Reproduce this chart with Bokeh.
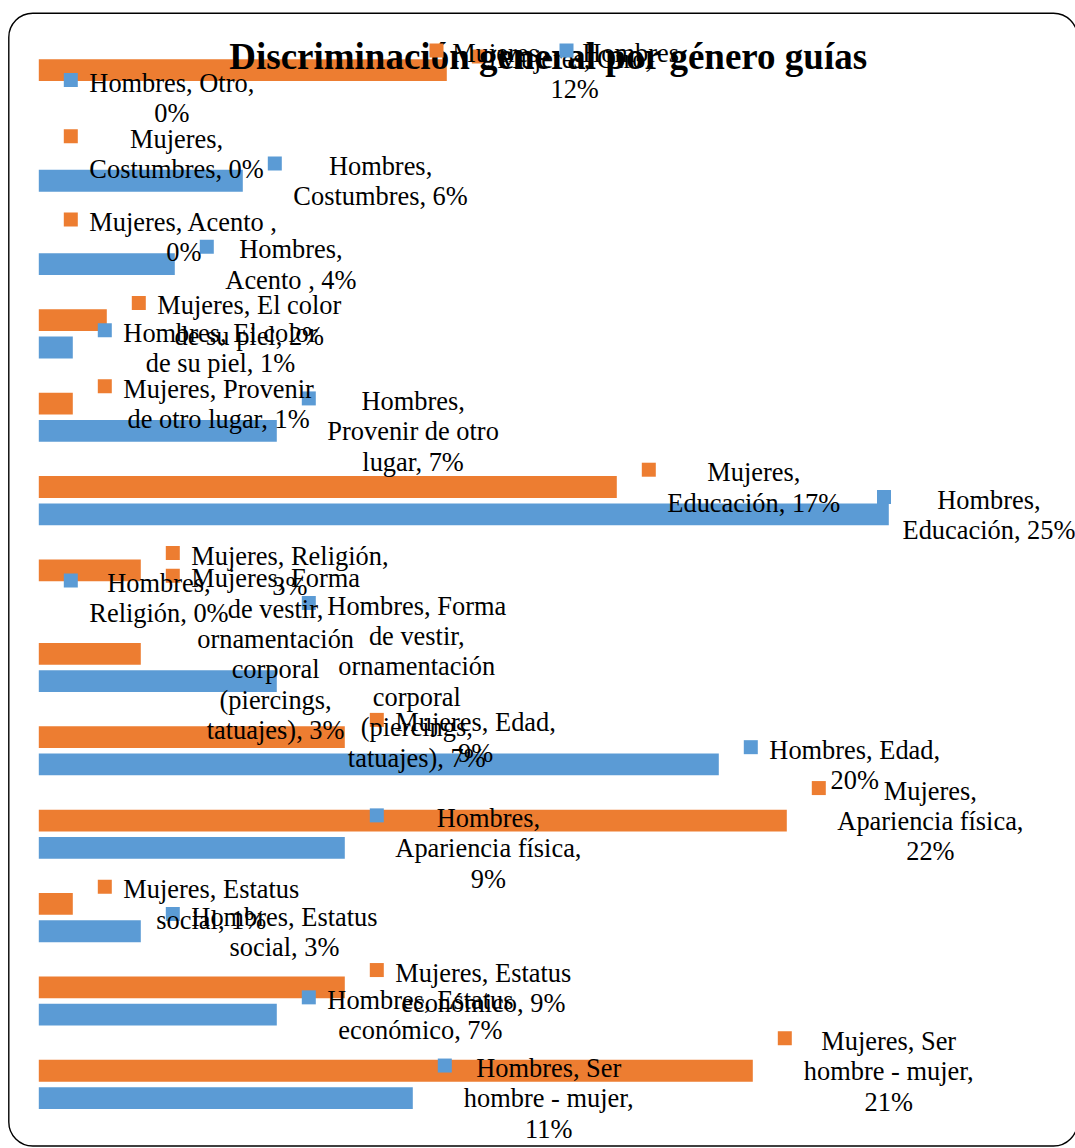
from bokeh.plotting import figure
from bokeh.models import Range1d, ColumnDataSource, BoxAnnotation
from bokeh.core.properties import value
from bokeh.embed import file_html
from bokeh.resources import INLINE

# ---------------- data ----------------
categories = [
    "Otro",
    "Costumbres",
    "Acento ",
    "El color de su piel",
    "Provenir de otro lugar",
    "Educación",
    "Religión",
    "Forma de vestir, ornamentación corporal (piercings, tatuajes)",
    "Edad",
    "Apariencia física",
    "Estatus social",
    "Estatus económico",
    "Ser hombre - mujer",
]
mujeres = [12, 0, 0, 2, 1, 17, 3, 3, 9, 22, 1, 9, 21]
hombres = [0, 6, 4, 1, 7, 25, 0, 7, 20, 9, 3, 7, 11]
series_names = ["Mujeres", "Hombres"]
series_colors = ["#ED7D31", "#5B9BD5"]
title_text = "Discriminación general por género guías"

# ---------------- layout (pixels, page coordinates) ----------------
W, H = 1075, 1148
X0, PX = 38.3, 34.0          # screen x of 0 %, pixels per 1 %
Y0, PY = 83.2, 83.39         # screen y of first category centre, pitch
BAR_OFF, BAR_H = 13.65, 21.8
FS = 26.4                    # label font size px
LH = 30.4                    # line height px
ASC, DESC = 0.891, 0.216
WRAP_EM = 7.51
MARK_GAP, TEXT_GAP, MARK = 25.0, 25.5, 14
RIGHT_LIMIT, TOP_LIMIT = 1075.0, 43.5
FONT = "Liberation Serif"
TXT_DY = -0.32 * FS          # renderer baseline correction
TITLE_FS = 37
TITLE_DY = -0.28 * TITLE_FS

def dx(px):
    return px / PX

def ydata(py):
    return (py - Y0) / PY

# Times / Liberation Serif advance widths (1/1000 em)
CW = {" ": 250, ",": 250, ".": 250, "%": 833, "-": 333, "(": 333, ")": 333}
for d in "0123456789":
    CW[d] = 500
CW.update(dict(a=444, b=500, c=444, d=500, e=444, f=333, g=500, h=500, i=278, j=278,
               k=500, l=278, m=778, n=500, o=500, p=500, q=500, r=333, s=389, t=278,
               u=500, v=500, w=722, x=500, y=500, z=444))
CW.update({"á": 444, "é": 444, "í": 278, "ó": 500, "ú": 500, "ñ": 500})
CW.update(dict(A=722, B=667, C=667, D=722, E=611, F=556, G=722, H=722, I=333, J=389,
               K=722, L=611, M=889, N=722, O=722, P=556, Q=722, R=667, S=556, T=611,
               U=722, V=722, W=944, X=722, Y=722, Z=611))

def tw(s, fs=FS):
    return sum(CW.get(ch, 500) for ch in s) * fs / 1000.0

def wrap(text, max_w):
    # no line break before punctuation (as in Office)
    words = []
    for w in text.split(" "):
        if words and w and w[0] in ",.;:)":
            words[-1] = words[-1] + " " + w
        else:
            words.append(w)
    lines, cur = [], ""
    for w in words:
        cand = w if not cur else cur + " " + w
        if cur and tw(cand) > max_w:
            lines.append(cur)
            cur = w
        else:
            cur = cand
    lines.append(cur)
    return lines

p = figure(width=W, height=H,
           x_range=Range1d(-X0 / PX, (W - X0) / PX),
           y_range=Range1d((H - Y0) / PY, -Y0 / PY),
           output_backend="svg", toolbar_location=None,
           x_axis_location=None, y_axis_location=None, min_border=0)
p.xgrid.visible = False
p.ygrid.visible = False
p.outline_line_color = None
p.background_fill_color = "white"
p.border_fill_color = "white"

idx = list(range(len(categories)))
series_vals = [mujeres, hombres]
offsets = [-BAR_OFF, BAR_OFF]

# bars
for vals, col, off in zip(series_vals, series_colors, offsets):
    src = ColumnDataSource(dict(y=[i + off / PY for i in idx], v=vals))
    p.hbar(y="y", left=0, right="v", height=BAR_H / PY, source=src,
           fill_color=col, line_color=None)

# data labels with legend keys
mk = dict(x=[], y=[], c=[])
tx = dict(x=[], y=[], t=[])
for s, (name, vals, col, off) in enumerate(zip(series_names, series_vals, series_colors, offsets)):
    for i, (cat, v) in enumerate(zip(categories, vals)):
        lab = f"{name}, {cat}, {v}%"
        lines = wrap(lab, WRAP_EM * FS)
        bw = max(tw(l) for l in lines)
        n = len(lines)
        block_h = (n - 1) * LH + (ASC + DESC) * FS
        centre = Y0 + PY * i + off
        top = max(centre - block_h / 2, TOP_LIMIT)
        bar_end = X0 + PX * v
        m_left = bar_end + MARK_GAP
        t_left = m_left + TEXT_GAP
        over = t_left + bw - RIGHT_LIMIT
        if over > 0:
            m_left -= over
            t_left -= over
        base0 = top + ASC * FS
        mk["x"].append(v + dx(m_left + MARK / 2 - bar_end))
        mk["y"].append(ydata(base0 - 11))
        mk["c"].append(col)
        for k, l in enumerate(lines):
            tx["x"].append(v + dx(t_left + bw / 2 - bar_end))
            tx["y"].append(ydata(base0 + k * LH + TXT_DY))
            tx["t"].append(l)

p.scatter(x="x", y="y", marker="square", size=MARK, fill_color="c", line_color=None,
          source=ColumnDataSource(mk))
p.text(x="x", y="y", text="t", source=ColumnDataSource(tx),
       text_font=value(FONT), text_font_size=f"{FS}px", text_color="black",
       text_align="center", text_baseline="alphabetic")

# title
p.text(x=[dx(548.0 - X0)], y=[ydata(66.7 + TITLE_DY)], text=[title_text],
       text_font=value(FONT), text_font_size=f"{TITLE_FS}px", text_font_style="bold",
       text_color="black", text_align="center", text_baseline="alphabetic")

# legend
lx = 429.0
lmk = dict(x=[], y=[], c=[])
ltx = dict(x=[], y=[], t=[])
for name, col in zip(series_names, series_colors):
    lmk["x"].append(dx(lx + MARK / 2 - X0))
    lmk["y"].append(ydata(50.0))
    lmk["c"].append(col)
    ltx["x"].append(dx(lx + 22.7 - X0))
    ltx["y"].append(ydata(60.7 + TXT_DY))
    ltx["t"].append(name)
    lx = lx + 22.7 + tw(name) + 20.8
p.scatter(x="x", y="y", marker="square", size=MARK, fill_color="c", line_color=None,
          source=ColumnDataSource(lmk))
p.text(x="x", y="y", text="t", source=ColumnDataSource(ltx),
       text_font=value(FONT), text_font_size=f"{FS}px", text_color="black",
       text_align="left", text_baseline="alphabetic")

# chart border (rounded)
p.add_layout(BoxAnnotation(left=dx(8.3 - X0), right=dx(1077 - X0),
                           top=ydata(12.7), bottom=ydata(1145.5),
                           fill_color=None, fill_alpha=0,
                           line_color="black", line_alpha=1.0, line_width=1.4,
                           border_radius=24))

open("out.html", "w").write(file_html(p, INLINE))
